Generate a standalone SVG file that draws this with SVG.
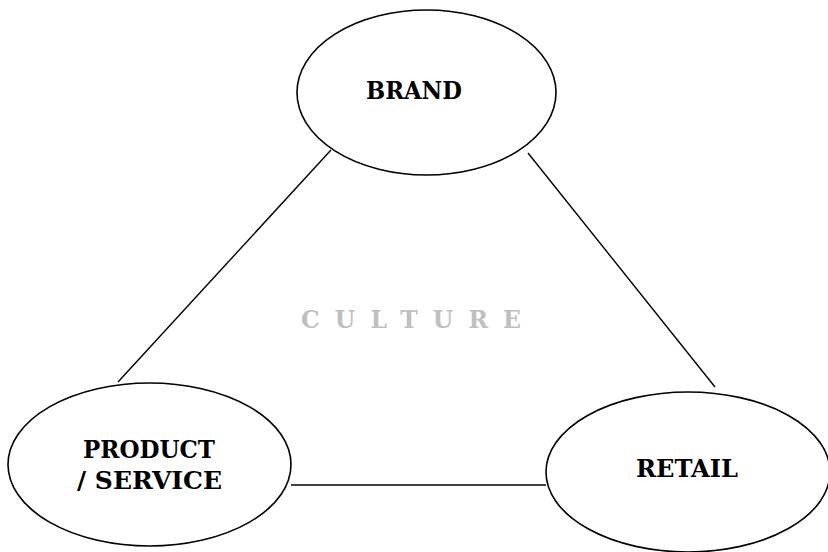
<svg xmlns="http://www.w3.org/2000/svg" width="828" height="552" viewBox="0 0 828 552">
<style>
.node ellipse{fill:#fff;stroke:#000;stroke-width:1.6}
.lbl{font-family:"DejaVu Serif","Liberation Serif",serif;font-weight:bold;font-size:23.5px;fill:#000;text-anchor:middle}
.conn line{stroke:#000;stroke-width:1.4}
.culture{font-family:"DejaVu Serif","Liberation Serif",serif;font-weight:bold;font-size:23.5px;fill:#c0c0c0}
</style>
<rect width="828" height="552" fill="#fff"/>
<g id="connectors" class="conn">
<line x1="331" y1="150" x2="118" y2="382"/>
<line x1="528" y1="153" x2="715" y2="387"/>
<line x1="291" y1="485" x2="546" y2="485"/>
</g>
<g id="brand" class="node">
<ellipse cx="426.5" cy="92.5" rx="129.5" ry="82.5"/>
<text class="lbl" x="414" y="99" textLength="96" lengthAdjust="spacingAndGlyphs">BRAND</text>
</g>
<g id="product" class="node">
<ellipse cx="149.5" cy="464.5" rx="141.5" ry="81.5"/>
<text class="lbl" x="149" y="458" textLength="132" lengthAdjust="spacingAndGlyphs">PRODUCT</text>
<text class="lbl" x="149.5" y="489" textLength="145" lengthAdjust="spacingAndGlyphs">/ SERVICE</text>
</g>
<g id="retail" class="node">
<ellipse cx="688" cy="472" rx="142" ry="80"/>
<text class="lbl" x="687" y="477" textLength="102" lengthAdjust="spacingAndGlyphs">RETAIL</text>
</g>
<text class="culture" x="301" y="328" textLength="220" lengthAdjust="spacing">CULTURE</text>
</svg>
